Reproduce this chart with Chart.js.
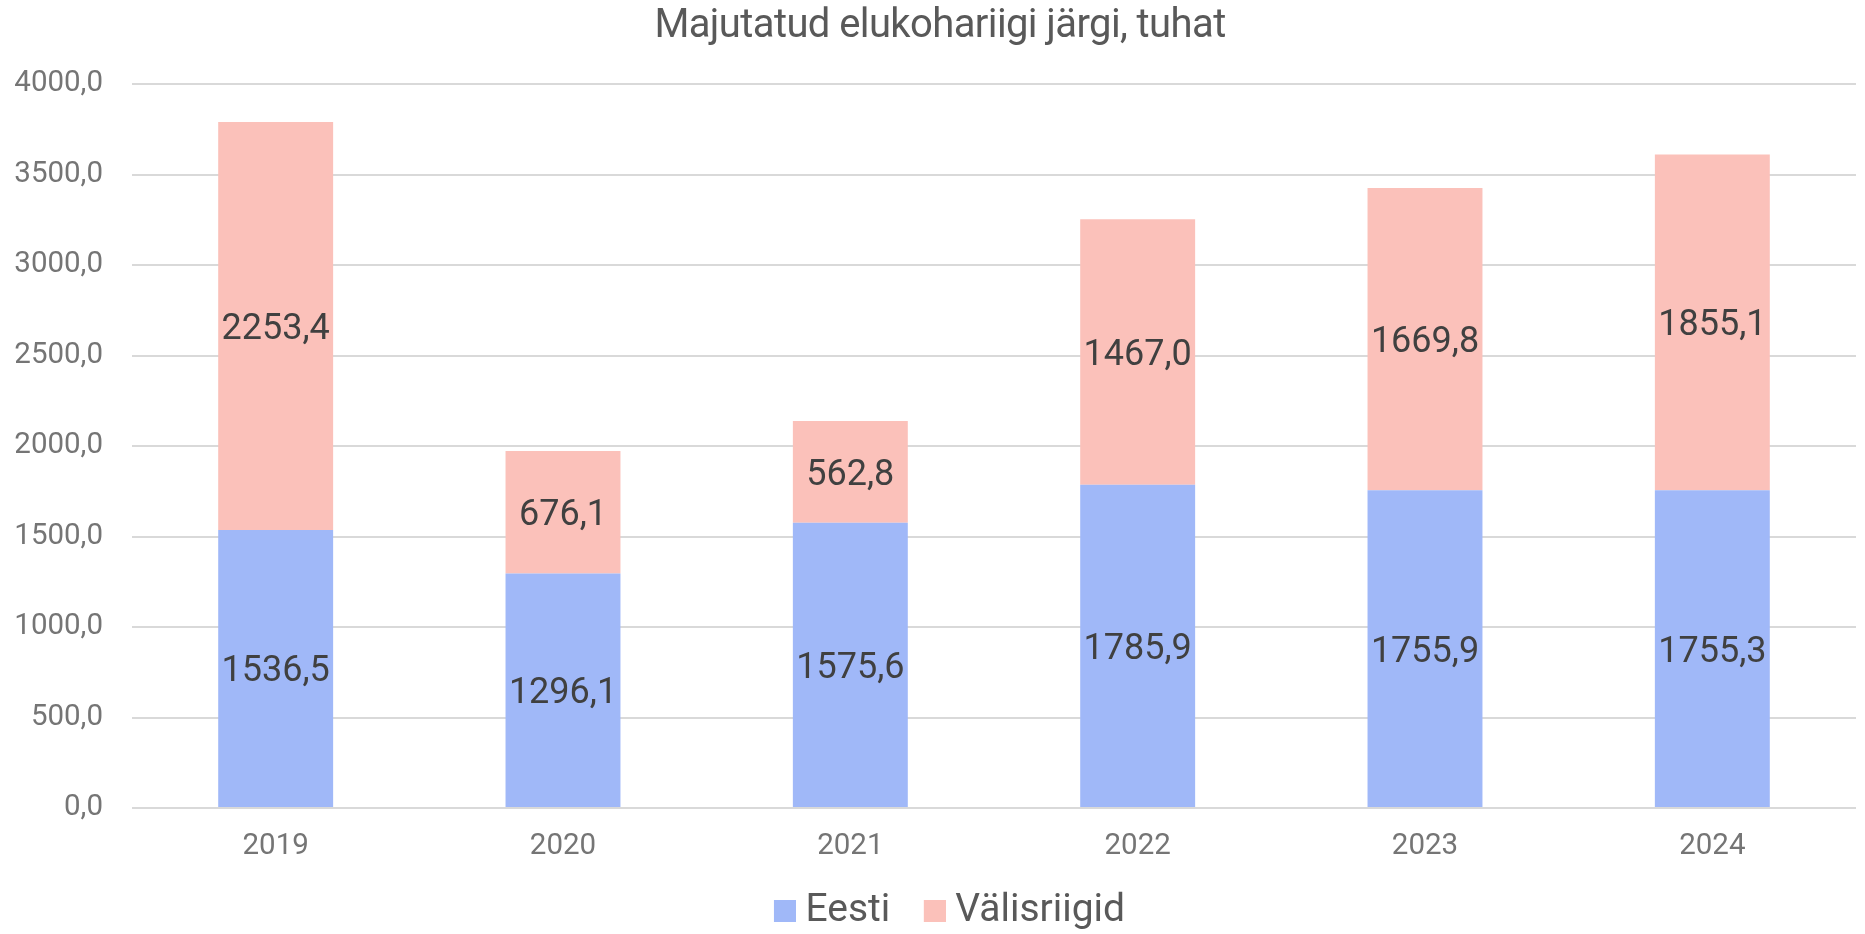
<!DOCTYPE html>
<html>
<head>
<meta charset="utf-8">
<script src="https://cdn.jsdelivr.net/npm/chart.js@4.4.1/dist/chart.umd.min.js"></script>
<style>
html,body{margin:0;padding:0;background:#ffffff;}
#wrap{width:1865px;height:934px;}
</style>
</head>
<body>
<div id="wrap"><canvas id="c" width="1865" height="934"></canvas></div>
<script>
const categories = ['2019', '2020', '2021', '2022', '2023', '2024'];
const eesti = [1536.5, 1296.1, 1575.6, 1785.9, 1755.9, 1755.3];
const valisriigid = [2253.4, 676.1, 562.8, 1467.0, 1669.8, 1855.1];
const seriesNames = ['Eesti', 'Välisriigid'];
const seriesColors = ['#A0B8F8', '#FBC1BA'];
const yTickValues = [0, 500, 1000, 1500, 2000, 2500, 3000, 3500, 4000];
const titleText = 'Majutatud elukohariigi järgi, tuhat';

const fmt = v => Number(v).toFixed(1).replace('.', ',');
const FONT = 'Roboto';

// legend swatch: 22x22 square placed at the right of a 40px-wide transparent image
function makeSwatch(color) {
  const c = document.createElement('canvas');
  c.width = 40; c.height = 22;
  const g = c.getContext('2d');
  g.fillStyle = color;
  g.fillRect(18, 0, 22, 22);
  return c;
}

const valueLabels = {
  id: 'valueLabels',
  afterDatasetsDraw(chart) {
    const ctx = chart.ctx;
    ctx.save();
    ctx.font = '36px ' + FONT;
    ctx.fillStyle = '#404040';
    ctx.textAlign = 'center';
    ctx.textBaseline = 'middle';
    chart.data.datasets.forEach((ds, i) => {
      const meta = chart.getDatasetMeta(i);
      if (meta.hidden) return;
      meta.data.forEach((bar, j) => {
        const p = bar.getProps(['x', 'y', 'base'], true);
        ctx.fillText(fmt(ds.data[j]), p.x, (p.y + p.base) / 2 + 4);
      });
    });
    ctx.restore();
  }
};

const tweaks = {
  id: 'tweaks',
  afterInit(chart) {
    const tb = chart.titleBlock;
    if (!tb) return;
    const orig = tb.draw.bind(tb);
    tb.draw = function () {
      const ctx = chart.ctx;
      ctx.save();
      ctx.translate(-5.5, 0);
      try { ctx.letterSpacing = '-0.6px'; } catch (e) {}
      orig();
      ctx.restore();
    };
  },
  beforeDraw(chart) {
    Object.values(chart.scales).forEach(s => { s._computeLabelArea = () => undefined; });
  }
};

new Chart(document.getElementById('c'), {
  type: 'bar',
  data: {
    labels: categories,
    datasets: [
      { label: seriesNames[0], data: eesti, backgroundColor: seriesColors[0], borderWidth: 0,
        categoryPercentage: 1.0, barPercentage: 0.4 },
      { label: seriesNames[1], data: valisriigid, backgroundColor: seriesColors[1], borderWidth: 0,
        categoryPercentage: 1.0, barPercentage: 0.4 }
    ]
  },
  options: {
    responsive: false,
    animation: false,
    layout: { padding: { top: 0, left: 35, right: 9, bottom: -6.5 } },
    plugins: {
      title: {
        display: true,
        text: titleText,
        color: '#595959',
        font: { family: FONT, size: 40, weight: 'normal' },
        padding: { top: 3, bottom: 33 }
      },
      legend: {
        position: 'bottom',
        labels: {
          usePointStyle: true,
          pointStyleWidth: 20,
          boxWidth: 22, boxHeight: 22, padding: 25.5,
          color: '#595959',
          font: { family: FONT, size: 39 },
          generateLabels(chart) {
            const items = Chart.defaults.plugins.legend.labels.generateLabels(chart);
            items.forEach((it, i) => { it.pointStyle = makeSwatch(seriesColors[i]); });
            return items;
          }
        }
      },
      tooltip: { enabled: false }
    },
    scales: {
      x: {
        stacked: true,
        afterFit(scale) { scale.height = 58; },
        grid: { display: false, drawTicks: false },
        border: { display: false },
        ticks: { color: '#757575', font: { family: FONT, size: 29.5 }, padding: 21 }
      },
      y: {
        stacked: true,
        min: 0, max: 4000,
        afterBuildTicks(scale) { scale.ticks = yTickValues.map(v => ({ value: v })); },
        afterFit(scale) { scale.width = 97; },
        grid: { color: '#d9d9d9', lineWidth: 2, drawTicks: false },
        border: { display: false },
        ticks: { color: '#757575', font: { family: FONT, size: 29.5 }, padding: 29, callback: v => fmt(v) }
      }
    }
  },
  plugins: [valueLabels, tweaks]
});
</script>
</body>
</html>
